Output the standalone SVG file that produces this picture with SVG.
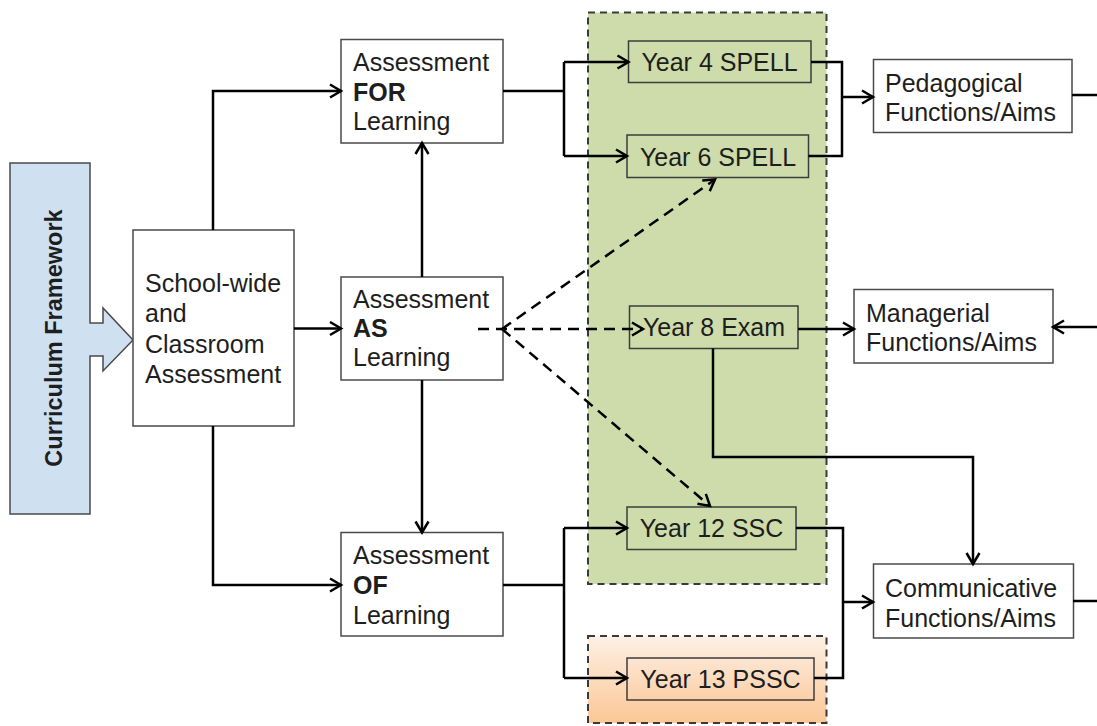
<svg xmlns="http://www.w3.org/2000/svg" width="1097" height="726" viewBox="0 0 1097 726">
<defs>
<style>
.box{fill:#ffffff;stroke:#4a4a4a;stroke-width:1.5}
.ybox{fill:#cddcaa;stroke:#3c3c3c;stroke-width:1.5}
.t{font-family:"Liberation Sans",Arial,sans-serif;font-size:25px;fill:#1e1e1e}
.b{font-weight:bold}
.c{text-anchor:middle}
.ln{fill:none;stroke:#000;stroke-width:2.5;stroke-linejoin:miter}
.dl{fill:none;stroke:#000;stroke-width:2.5;stroke-dasharray:11 7}
.reg{stroke:#3a3a3a;stroke-width:2;stroke-dasharray:7 5}
</style>
<marker id="ah" markerUnits="userSpaceOnUse" markerWidth="16" markerHeight="16" viewBox="0 0 16 16" refX="13" refY="8" orient="auto">
<path d="M2,1.5 L13,8 L2,14.5" fill="none" stroke="#000" stroke-width="2.5"/>
</marker>
<linearGradient id="og" x1="0" y1="0" x2="0" y2="1">
<stop offset="0" stop-color="#fdf0e4"/>
<stop offset="1" stop-color="#fbc796"/>
</linearGradient>
<linearGradient id="og2" x1="0" y1="0" x2="0" y2="1">
<stop offset="0" stop-color="#fde6d2"/>
<stop offset="1" stop-color="#fbd0a8"/>
</linearGradient>
</defs>
<rect width="1097" height="726" fill="#ffffff"/>

<g id="region-green"><rect class="reg" x="588" y="12.5" width="238.5" height="571.5" fill="#cddcaa"/></g>
<g id="region-orange"><rect class="reg" x="588" y="636" width="238.5" height="87" fill="url(#og)"/></g>

<g id="curriculum-framework">
<path d="M10,163 H90 V323 H103 V308 L133,340 L103,371 V356 H90 V514 H10 Z" fill="#cfe0f1" stroke="#4a4a4a" stroke-width="1.5"/>
<text class="t b c" style="font-size:23.5px" transform="translate(62,338) rotate(-90)">Curriculum Framework</text>
</g>

<g id="school-wide">
<rect class="box" x="133" y="230" width="161" height="196"/>
<text class="t" x="145" y="292">School-wide</text>
<text class="t" x="145" y="322">and</text>
<text class="t" x="145" y="353">Classroom</text>
<text class="t" x="145" y="383">Assessment</text>
</g>

<g id="assessment-for">
<rect class="box" x="341" y="39.5" width="162" height="103.5"/>
<text class="t" x="353" y="71">Assessment</text>
<text class="t b" x="353" y="101">FOR</text>
<text class="t" x="353" y="130">Learning</text>
</g>

<g id="assessment-as">
<rect class="box" x="341" y="277" width="162" height="103"/>
<text class="t" x="353" y="307.5">Assessment</text>
<text class="t b" x="353" y="337">AS</text>
<text class="t" x="353" y="366">Learning</text>
</g>

<g id="assessment-of">
<rect class="box" x="341" y="532.5" width="162" height="103.5"/>
<text class="t" x="353" y="563.5">Assessment</text>
<text class="t b" x="353" y="593.5">OF</text>
<text class="t" x="353" y="623.5">Learning</text>
</g>

<g id="year4">
<rect class="ybox" x="628.5" y="41" width="182.5" height="41.5"/>
<text class="t c" x="719.5" y="71">Year 4 SPELL</text>
</g>
<g id="year6">
<rect class="ybox" x="627" y="135" width="181.5" height="42.5"/>
<text class="t c" x="718" y="165.5">Year 6 SPELL</text>
</g>
<g id="year8">
<rect class="ybox" x="629.5" y="306" width="168.5" height="42.5"/>
<text class="t c" x="714" y="336">Year 8 Exam</text>
</g>
<g id="year12">
<rect class="ybox" x="627" y="507" width="169" height="42.5"/>
<text class="t c" x="711.5" y="537">Year 12 SSC</text>
</g>
<g id="year13">
<rect x="627" y="658" width="187" height="42" fill="url(#og2)" stroke="#3c3c3c" stroke-width="1.5"/>
<text class="t c" x="720.5" y="688">Year 13 PSSC</text>
</g>

<g id="pedagogical">
<rect class="box" x="873.5" y="59.5" width="198.5" height="73"/>
<text class="t" x="885" y="92">Pedagogical</text>
<text class="t" x="885" y="121">Functions/Aims</text>
</g>
<g id="managerial">
<rect class="box" x="854" y="289.5" width="199" height="73.5"/>
<text class="t" x="866" y="322">Managerial</text>
<text class="t" x="866" y="351">Functions/Aims</text>
</g>
<g id="communicative">
<rect class="box" x="873.5" y="564" width="200" height="74"/>
<text class="t" x="885" y="597">Communicative</text>
<text class="t" x="885" y="627">Functions/Aims</text>
</g>

<g id="connectors">
<path class="ln" d="M213,230 V91 H341" marker-end="url(#ah)"/>
<path class="ln" d="M294,328.5 H341" marker-end="url(#ah)"/>
<path class="ln" d="M213,426 V585 H341" marker-end="url(#ah)"/>
<path class="ln" d="M422,277 V143" marker-end="url(#ah)"/>
<path class="ln" d="M422,380 V532.5" marker-end="url(#ah)"/>
<path class="ln" d="M503,91 H564 M564,62 V156"/>
<path class="ln" d="M564,62 H628.5" marker-end="url(#ah)"/>
<path class="ln" d="M564,156 H627" marker-end="url(#ah)"/>
<path class="ln" d="M503,585 H564 M564,528 V678"/>
<path class="ln" d="M564,528 H627" marker-end="url(#ah)"/>
<path class="ln" d="M564,678 H627" marker-end="url(#ah)"/>
<path class="ln" d="M811,62 H842 V156 H808.5"/>
<path class="ln" d="M842,97 H873" marker-end="url(#ah)"/>
<path class="ln" d="M796,528 H843 V678 H814"/>
<path class="ln" d="M843,602 H873" marker-end="url(#ah)"/>
<path class="ln" d="M798,329 H854" marker-end="url(#ah)"/>
<path class="ln" d="M713,348.5 V457 H973 V564" marker-end="url(#ah)"/>
<path class="ln" d="M1072,95 H1098.6 V601 H1073"/>
<path class="ln" d="M1098.6,327 H1053" marker-end="url(#ah)"/>
<path class="dl" d="M478,329 H643" marker-end="url(#ah)"/>
<path class="dl" d="M502,329 L715,179.5" marker-end="url(#ah)"/>
<path class="dl" d="M502,329 L710,506" marker-end="url(#ah)"/>
</g>
</svg>
